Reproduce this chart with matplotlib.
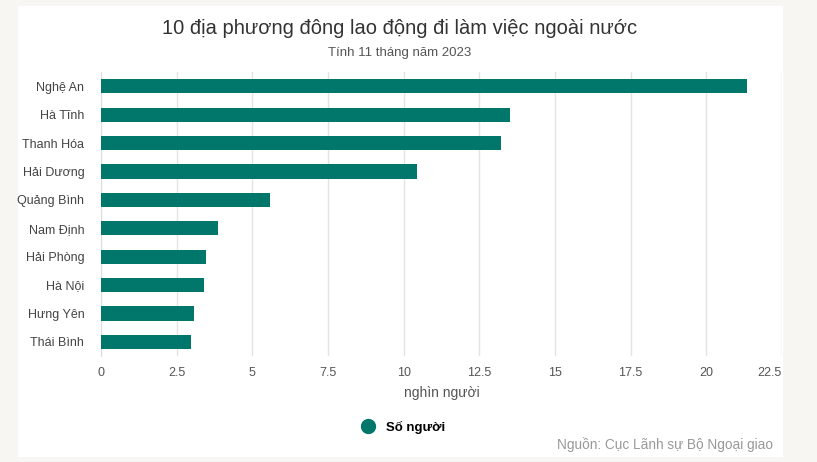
import matplotlib
matplotlib.use("Agg")
import matplotlib.pyplot as plt
from matplotlib.patches import Rectangle
from matplotlib.lines import Line2D

plt.rcParams['font.family'] = ['Liberation Sans', 'DejaVu Sans']

categories = ["Nghệ An", "Hà Tĩnh", "Thanh Hóa", "Hải Dương", "Quảng Bình",
              "Nam Định", "Hải Phòng", "Hà Nội", "Hưng Yên", "Thái Bình"]
values = [21.35, 13.5, 13.2, 10.45, 5.6, 3.87, 3.47, 3.4, 3.07, 2.97]
xticks = [0, 2.5, 5, 7.5, 10, 12.5, 15, 17.5, 20, 22.5]
xtick_labels = ["0", "2.5", "5", "7.5", "10", "12.5", "15", "17.5", "20", "22.5"]

bar_color = "#00776a"

fig = plt.figure(figsize=(8.17, 4.62), dpi=100)
fig.patch.set_facecolor("#f7f6f2")
panel = Rectangle((18/817, 1 - 457/462), (783-18)/817, (457-6)/462,
                  transform=fig.transFigure, facecolor="white",
                  edgecolor="none", zorder=-10)
fig.add_artist(panel)

ax = fig.add_axes([101/817, 1 - 356/462, (782-101)/817, (356-72)/462])
ax.set_facecolor("none")
ax.set_zorder(1)
y = list(range(len(categories)))
ax.barh(y, values, height=0.5, color=bar_color, zorder=3)
ax.set_ylim(len(categories) - 0.5, -0.5)
ax.set_yticks(y)
ax.set_yticklabels(categories, fontsize=9, color="#444444")
ax.set_xlim(0, 22.5)
ax.set_xticks(xticks)
ax.set_xticklabels(xtick_labels, fontsize=9, color="#555555")
ax.get_xticklabels()[-1].set_ha("right")
ax.tick_params(axis='both', length=0, pad=8)
ax.tick_params(axis='y', pad=12)
ax.grid(axis='x', color="#e3e3e3", linewidth=1, zorder=0)
for s in ["top", "right", "bottom"]:
    ax.spines[s].set_visible(False)
ax.spines["left"].set_color("#dddddd")
ax.set_xlabel("nghìn người", fontsize=10, color="#555555", labelpad=5)

fig.text(400/817, 1 - 28/462, "10 địa phương đông lao động đi làm việc ngoài nước",
         ha="center", va="center", fontsize=14.5, color="#333333")
fig.text(400/817, 1 - 53/462, "Tính 11 tháng năm 2023",
         ha="center", va="center", fontsize=9.5, color="#555555")

handle = Line2D([], [], marker="o", linestyle="none", markersize=10,
                markerfacecolor=bar_color, markeredgecolor=bar_color)
fig.legend([handle], ["Số người"], loc="center", bbox_to_anchor=(400/817, 1 - 427/462),
           frameon=False, prop={"weight": "bold", "size": 9.5}, handletextpad=0.4)

fig.text(773/817, 1 - 445/462, "Nguồn: Cục Lãnh sự Bộ Ngoại giao",
         ha="right", va="center", fontsize=9.8, color="#999999")

fig.savefig("out.png", dpi=100, facecolor=fig.get_facecolor())
